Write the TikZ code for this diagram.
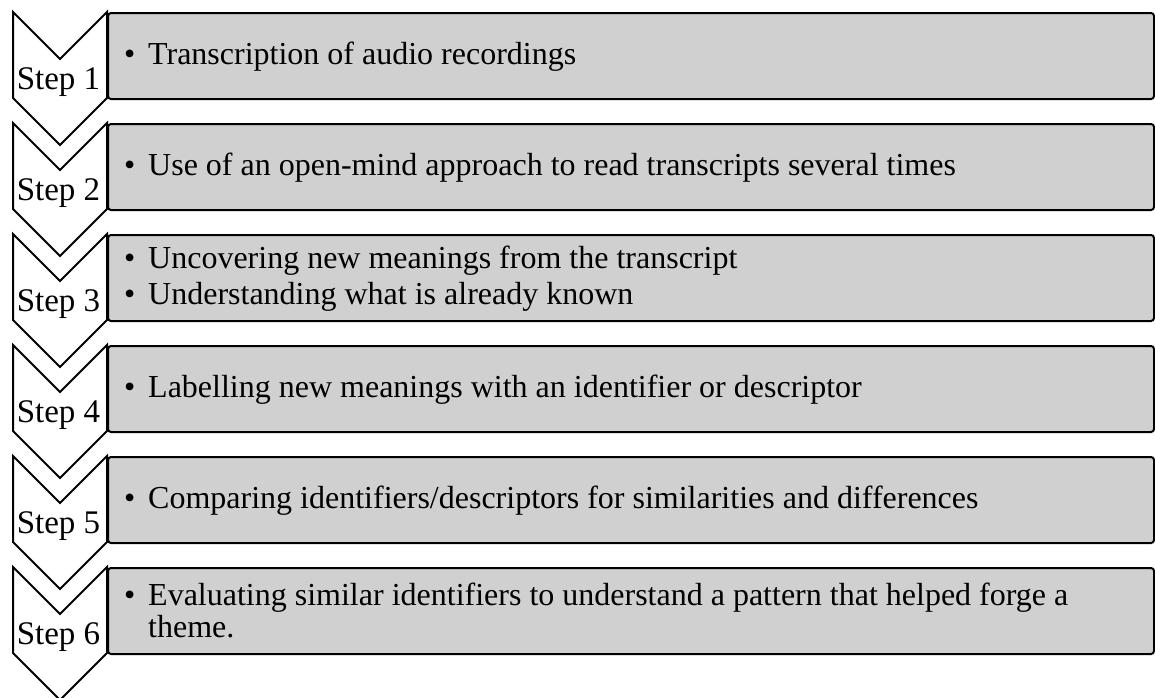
\documentclass[tikz,border=0pt]{standalone}
\usepackage{fontspec}
\setmainfont{Liberation Serif}
\definecolor{boxgray}{HTML}{D0D0D0}
\tikzset{
  chev/.style={draw=black, fill=white, line width=2pt, line join=miter},
  stepbox/.style={draw=black, fill=boxgray, line width=2pt, rounded corners=3pt,
    minimum width=1046pt, minimum height=86pt, inner sep=0pt, anchor=north west},
  steplabel/.style={anchor=base, inner sep=0pt, font=\fontsize{33}{38}\selectfont},
  btxt/.style={anchor=base west, inner sep=0pt, font=\fontsize{32}{38}\selectfont},
}
\begin{document}
\begin{tikzpicture}[x=1pt,y=-1pt]
\useasboundingbox (0,0) rectangle (1155,697);
\foreach \k in {0,...,5}{
  \pgfmathsetmacro{\yy}{12+111*\k}
  \draw[chev] (13,\yy) -- (60,\yy+47) -- (107,\yy) -- (107,\yy+86) -- (60,\yy+133) -- (13,\yy+86) -- cycle;
  \node[stepbox] (box\k) at (107,\yy) {};
}
\foreach \k/\n in {0/1,1/2,2/3,3/4,4/5,5/6}{
  \pgfmathsetmacro{\yb}{89+111*\k}
  \node[steplabel] (step\n) at (58.5,\yb) {Step \n};
}
% Box 1
\node[btxt] (b1) at (124,64) {\textbullet};
\node[btxt] (t1) at (148,64) {Transcription of audio recordings};
% Box 2
\node[btxt] (b2) at (124,175) {\textbullet};
\node[btxt] (t2) at (148,175) {Use of an open-mind approach to read transcripts several times};
% Box 3
\node[btxt] (b3a) at (124,268) {\textbullet};
\node[btxt] (t3a) at (148,268) {Uncovering new meanings from the transcript};
\node[btxt] (b3b) at (124,304) {\textbullet};
\node[btxt] (t3b) at (148,304) {Understanding what is already known};
% Box 4
\node[btxt] (b4) at (124,397) {\textbullet};
\node[btxt] (t4) at (148,397) {Labelling new meanings with an identifier or descriptor};
% Box 5
\node[btxt] (b5) at (124,508) {\textbullet};
\node[btxt] (t5) at (148,508) {Comparing identifiers/descriptors for similarities and differences};
% Box 6
\node[btxt] (b6) at (124,605) {\textbullet};
\node[btxt] (t6a) at (148,605) {Evaluating similar identifiers to understand a pattern that helped forge a};
\node[btxt] (t6b) at (148,637) {theme.};
\end{tikzpicture}
\end{document}
